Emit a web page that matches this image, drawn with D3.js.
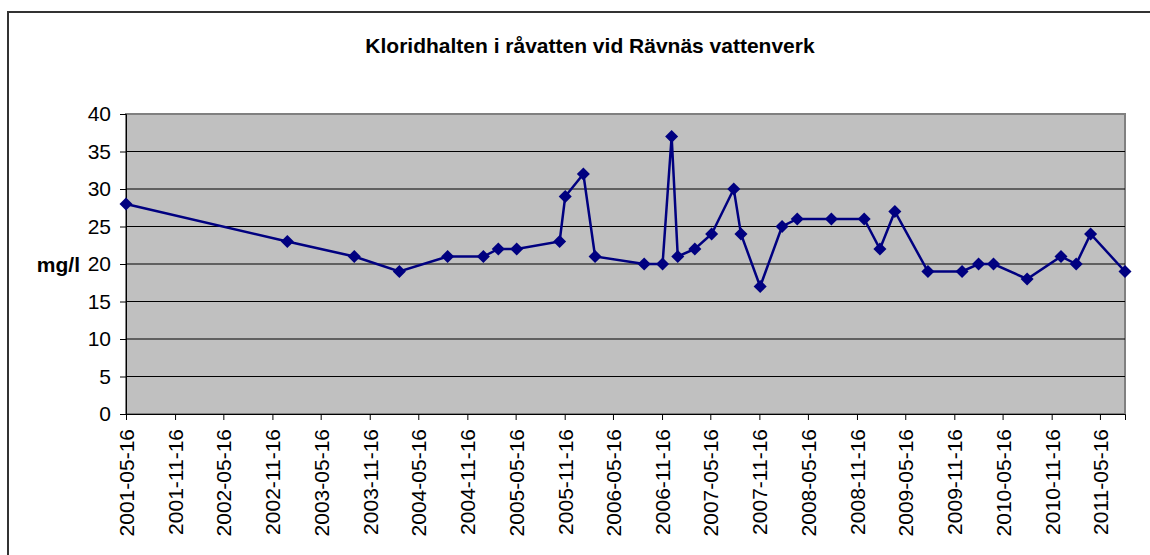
<!DOCTYPE html>
<html>
<head>
<meta charset="utf-8">
<script src="https://cdn.jsdelivr.net/npm/d3@7"></script>
<style>
  body { margin: 0; background: #fff; }
  text { font-family: Arial, "Liberation Sans", sans-serif; fill: #000; }
</style>
</head>
<body>
<svg id="chart" width="1150" height="555"></svg>
<script>
// data
const dates = ["2001-05-16","2003-01-11","2003-09-19","2004-03-06","2004-09-03","2005-01-15",
  "2005-03-12","2005-05-20","2005-10-28","2005-11-18","2006-01-25","2006-03-10",
  "2006-09-10","2006-11-18","2006-12-22","2007-01-14","2007-03-19","2007-05-21",
  "2007-08-12","2007-09-08","2007-11-19","2008-02-09","2008-04-06","2008-08-12",
  "2008-12-13","2009-02-10","2009-04-07","2009-08-09","2009-12-15","2010-02-15",
  "2010-04-12","2010-08-16","2010-12-21","2011-02-16","2011-04-11","2011-08-18"];
const values = [28,23,21,19,21,21,22,22,23,29,32,21,20,20,37,21,22,24,30,24,17,25,26,26,
  26,22,27,19,19,20,20,18,21,20,24,19];
const tickLabels = ["2001-05-16","2001-11-16","2002-05-16","2002-11-16","2003-05-16","2003-11-16",
  "2004-05-16","2004-11-16","2005-05-16","2005-11-16","2006-05-16","2006-11-16","2007-05-16",
  "2007-11-16","2008-05-16","2008-11-16","2009-05-16","2009-11-16","2010-05-16","2010-11-16",
  "2011-05-16"];
const yTicks = [0,5,10,15,20,25,30,35,40];

const parse = d3.timeParse("%Y-%m-%d");
const points = dates.map((d, i) => ({ date: parse(d), value: values[i] }));

const svg = d3.select("#chart");
const plotLeft = 126, plotRight = 1125, plotTop = 114, plotBottom = 414;

const x = d3.scaleTime()
    .domain([parse(dates[0]), parse(dates[dates.length - 1])])
    .range([plotLeft, plotRight]);
const y = d3.scaleLinear().domain([0, 40]).range([plotBottom, plotTop]);

// outer chart border
svg.append("rect")
    .attr("x", 8).attr("y", 12)
    .attr("width", 1170).attr("height", 570)
    .attr("fill", "#fff")
    .attr("stroke", "#333").attr("stroke-width", 2);

svg.append("text")
    .attr("x", 590).attr("y", 46).attr("dy", "0.35em")
    .attr("text-anchor", "middle")
    .style("font-size", "21px").style("font-weight", "bold")
    .text("Kloridhalten i råvatten vid Rävnäs vattenverk");

// plot area
svg.append("rect")
    .attr("x", plotLeft).attr("y", plotTop)
    .attr("width", plotRight - plotLeft).attr("height", plotBottom - plotTop)
    .attr("fill", "#c0c0c0")
    .attr("stroke", "#808080").attr("stroke-width", 2);

svg.append("g")
    .selectAll("line")
    .data(yTicks.filter(v => v > 0 && v < 40))
    .join("line")
    .attr("x1", plotLeft).attr("x2", plotRight)
    .attr("y1", d => y(d)).attr("y2", d => y(d))
    .attr("stroke", "#000").attr("stroke-width", 1);

// axes
const yAxis = svg.append("g")
    .attr("transform", `translate(${plotLeft},0)`)
    .call(d3.axisLeft(y).tickValues(yTicks).tickSize(6).tickPadding(9));
yAxis.select(".domain").attr("stroke", "#000");
yAxis.selectAll("text").style("font-size", "21px").style("font-family", "Arial, 'Liberation Sans', sans-serif");

const xAxis = svg.append("g")
    .attr("transform", `translate(0,${plotBottom})`)
    .call(d3.axisBottom(x).tickValues(tickLabels.map(parse)).tickSize(6)
        .tickFormat(d3.timeFormat("%Y-%m-%d")));
xAxis.select(".domain").attr("stroke", "#000");
xAxis.selectAll("text")
    .style("font-size", "21px").style("font-family", "Arial, 'Liberation Sans', sans-serif")
    .attr("text-anchor", "end")
    .attr("transform", "rotate(-90)")
    .attr("x", -15).attr("y", 0).attr("dy", "0.36em");

svg.append("text")
    .attr("x", 80).attr("y", 265).attr("dy", "0.35em")
    .attr("text-anchor", "end")
    .style("font-size", "21px").style("font-weight", "bold")
    .text("mg/l");

// series
const line = d3.line().x(d => x(d.date)).y(d => y(d.value));
svg.append("path")
    .datum(points)
    .attr("d", line)
    .attr("fill", "none")
    .attr("stroke", "#000080").attr("stroke-width", 2.5);

svg.append("g")
    .selectAll("path")
    .data(points)
    .join("path")
    .attr("d", d3.symbol(d3.symbolSquare, 85))
    .attr("transform", d => `translate(${x(d.date)},${y(d.value)}) rotate(45)`)
    .attr("fill", "#000080");
</script>
</body>
</html>
